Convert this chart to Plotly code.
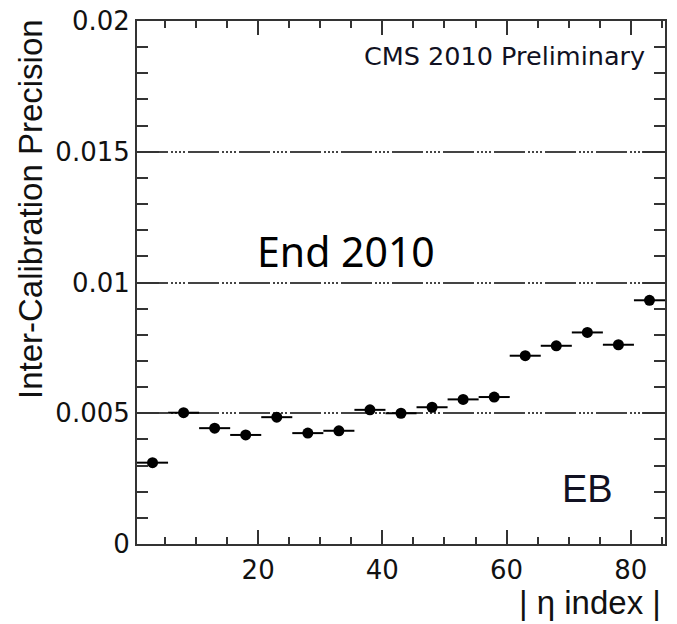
import plotly.graph_objects as go

# Data
eta_bin_center = [3, 8, 13, 18, 23, 28, 33, 38, 43, 48, 53, 58, 63, 68, 73, 78, 83]
eta_bin_halfwidth = [2.5] * 17
precision = [0.00311, 0.00502, 0.00443, 0.00417, 0.00485, 0.00424, 0.00433,
             0.00513, 0.00500, 0.00523, 0.00553, 0.00562, 0.00720, 0.00758,
             0.00809, 0.00762, 0.00932]

x_ticks = [20, 40, 60, 80]
x_tick_labels = ["20", "40", "60", "80"]
y_ticks = [0, 0.005, 0.01, 0.015, 0.02]
y_tick_labels = ["0", "0.005", "0.01", "0.015", "0.02"]

W, H = 677, 624
ML, MR, MT, MB = 137, 12, 21, 80
PW, PH = W - ML - MR, H - MT - MB

def px(xp):
    return (xp - ML) / PW

def py(yp):
    return (H - MB - yp) / PH

fig = go.Figure()
fig.add_trace(go.Scatter(
    x=eta_bin_center, y=precision, mode="markers",
    marker=dict(color="black", size=11, symbol="circle"),
    error_x=dict(type="data", array=eta_bin_halfwidth, symmetric=True,
                 thickness=2, width=0, color="black"),
    showlegend=False, hoverinfo="x+y",
))

axcol = "#333333"
tickfont = dict(family="DejaVu Sans", size=26, color="#111111")

fig.update_xaxes(
    range=[0.5, 85.5], tickmode="array", tickvals=x_ticks, ticktext=x_tick_labels,
    ticks="inside", ticklen=14, tickwidth=2, tickcolor=axcol,
    minor=dict(dtick=5, tick0=0, ticks="inside", ticklen=7, tickwidth=2, tickcolor=axcol, showgrid=False),
    showline=True, linewidth=2, linecolor=axcol, mirror="ticks",
    showgrid=False, zeroline=False, tickfont=tickfont, ticklabelstandoff=2,
    automargin=False,
)
fig.update_yaxes(
    range=[0, 0.02], tickmode="array", tickvals=y_ticks, ticktext=y_tick_labels,
    ticks="inside", ticklen=22, tickwidth=2, tickcolor=axcol,
    minor=dict(dtick=0.001, tick0=0, ticks="inside", ticklen=11, tickwidth=2, tickcolor=axcol, showgrid=False),
    showline=True, linewidth=2, linecolor=axcol, mirror="ticks",
    showgrid=True, gridcolor="#444444", gridwidth=2,
    griddash="31px,3px,2px,2px,2px,2px,2px,2px,2px,3px",
    zeroline=False, tickfont=tickfont, ticklabelstandoff=0,
    automargin=False,
)

annotations = [
    dict(text="Inter-Calibration Precision", x=px(30), y=py(209), textangle=-90,
         xanchor="center", yanchor="middle",
         font=dict(family="Liberation Sans", size=33, color="#111111")),
    dict(text="| η index |", x=px(663), y=py(603), xanchor="right", yanchor="middle",
         font=dict(family="Liberation Sans", size=33, color="#111111")),
    dict(text="CMS 2010 Preliminary", x=px(647), y=py(56), xanchor="right", yanchor="middle",
         font=dict(family="DejaVu Sans", size=25.5, color="#111122")),
    dict(text="EB", x=px(587), y=py(489), xanchor="center", yanchor="middle",
         font=dict(family="Liberation Sans", size=38, color="#111122")),
    dict(text="End 2010", x=px(255), y=py(251), xanchor="left", yanchor="middle",
         font=dict(family="Comic Sans MS, Noto Sans", size=41, color="black")),
]
for a in annotations:
    a.update(xref="paper", yref="paper", showarrow=False)

fig.update_layout(
    width=W, height=H,
    margin=dict(l=ML, r=MR, t=MT, b=MB, pad=0, autoexpand=False),
    paper_bgcolor="white", plot_bgcolor="white",
    annotations=annotations,
)

fig.write_html(
    "out.html",
    config={"displayModeBar": False},
    post_script="document.body.style.margin='0';document.body.style.overflow='hidden';",
)
